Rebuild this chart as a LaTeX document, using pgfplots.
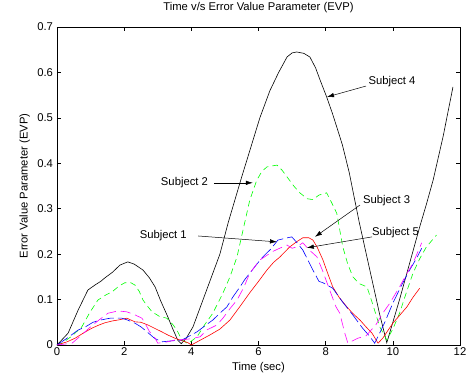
\documentclass[border=0pt]{standalone}
\usepackage{pgfplots}
\pgfplotsset{compat=1.18}
\usepackage{fontspec}
\setmainfont{Liberation Sans}
\usetikzlibrary{arrows.meta}
\definecolor{mgreen}{RGB}{0,255,0}
\definecolor{mblue}{RGB}{0,0,255}
\definecolor{mred}{RGB}{255,0,0}
\definecolor{mmag}{RGB}{255,0,255}
\newcommand{\lfont}{\fontsize{11.3}{13}\selectfont}
\begin{document}
\begin{tikzpicture}
\begin{axis}[
  scale only axis, width=403bp, height=318bp,
  xmin=0, xmax=12, ymin=0, ymax=0.7,
  xtick={0,2,...,12}, ytick={0,0.1,...,0.7},
  yticklabels={0,0.1,0.2,0.3,0.4,0.5,0.6,0.7},
  tick align=inside, tick pos=both,
  major tick length=4bp,
  axis line style={line width=0.8pt},
  every tick/.style={black, line width=0.5pt},
  /pgf/number format/assume math mode=true,
  tick label style={font=\lfont},
  xticklabel style={yshift=1bp},
  yticklabel style={xshift=-0.5bp},
  title={Time v/s Error Value Parameter (EVP)},
  title style={font=\lfont, at={(axis description cs:0.5,1.041)}, anchor=center},
  xlabel={Time (sec)},
  xlabel style={font=\lfont, at={(axis description cs:0.5,-0.072)}, anchor=center},
  ylabel={Error Value Parameter (EVP)},
  ylabel style={font=\lfont, at={(axis description cs:-0.080,0.5)}, anchor=center, rotate=0},
  clip=false,
]
% Subject 4 (black)
\addplot[black, line width=0.6pt] coordinates {
(0,0) (0.33,0.026) (0.63,0.077) (0.92,0.121) (1.13,0.132) (1.3,0.14) (1.43,0.148) (1.65,0.16) (1.875,0.176) (2.11,0.183) (2.3,0.178) (2.56,0.165) (2.75,0.148) (2.92,0.128) (3.1,0.095) (3.3,0.062) (3.45,0.035) (3.6,0.01) (3.7,0.003) (3.85,0.015) (4.05,0.04) (4.3,0.09) (4.6,0.15) (4.85,0.2) (5.1,0.27) (5.3,0.32) (5.5,0.37) (5.75,0.43) (6.04,0.50) (6.34,0.56) (6.6,0.60) (6.85,0.634) (7.0,0.643) (7.14,0.645) (7.35,0.642) (7.53,0.634) (7.7,0.61) (7.83,0.584) (8.03,0.546) (8.2,0.51) (8.33,0.48) (8.5,0.44) (8.7,0.38) (9.0,0.27) (9.3,0.17) (9.6,0.07) (9.82,0.005) (10.0,0.05) (10.2,0.1) (10.5,0.18) (10.8,0.26) (11.0,0.31) (11.2,0.363) (11.5,0.46) (11.79,0.568)
};
% Subject 2 (green dashed)
\addplot[mgreen, line width=0.6pt, dash pattern=on 6bp off 4bp] coordinates {
(0,0) (0.15,0.004) (0.45,0.02) (0.74,0.04) (0.98,0.072) (1.22,0.099) (1.45,0.11) (1.64,0.117) (1.85,0.13) (2.02,0.137) (2.2,0.137) (2.32,0.132) (2.45,0.118) (2.56,0.099) (2.7,0.085) (2.83,0.073) (3.05,0.063) (3.27,0.059) (3.45,0.045) (3.57,0.033) (3.72,0.011) (3.9,0.003) (4.17,0.018) (4.4,0.045) (4.64,0.07) (4.94,0.114) (5.15,0.15) (5.36,0.194) (5.5,0.24) (5.74,0.319) (5.95,0.363) (6.1,0.382) (6.25,0.392) (6.55,0.396) (6.7,0.385) (6.85,0.37) (7.05,0.35) (7.23,0.335) (7.45,0.322) (7.62,0.32) (7.8,0.33) (8.03,0.335) (8.2,0.31) (8.33,0.29) (8.51,0.216) (8.65,0.18) (8.81,0.15) (9.0,0.135) (9.23,0.128) (9.4,0.09) (9.61,0.04) (9.82,0.011) (10.0,0.035) (10.2,0.07) (10.4,0.115) (10.6,0.158) (10.8,0.19) (11.0,0.216) (11.3,0.242)
};
% Subject 5 (red)
\addplot[mred, line width=0.6pt] coordinates {
(0,0) (0.3,0.007) (0.54,0.015) (0.8,0.027) (1.04,0.037) (1.25,0.044) (1.43,0.049) (1.65,0.053) (1.82,0.055) (2.08,0.059) (2.2,0.055) (2.32,0.051) (2.5,0.05) (2.71,0.044) (2.9,0.037) (3.12,0.029) (3.3,0.022) (3.51,0.015) (3.7,0.01) (3.9,0.005) (4.0,0.0) (4.2,0.008) (4.55,0.022) (4.85,0.035) (5.15,0.055) (5.45,0.085) (5.74,0.115) (6.0,0.14) (6.25,0.165) (6.45,0.182) (6.64,0.194) (6.93,0.216) (7.15,0.228) (7.32,0.236) (7.5,0.236) (7.62,0.231) (7.75,0.215) (7.92,0.187) (8.05,0.16) (8.21,0.128) (8.4,0.105) (8.63,0.084) (8.8,0.07) (9.02,0.055) (9.2,0.04) (9.38,0.026) (9.56,0.004) (9.7,0.015) (10.0,0.048) (10.2,0.065) (10.42,0.084) (10.6,0.105) (10.8,0.125)
};
% Subject 1 (blue)
\addplot[mblue, line width=0.6pt, dash pattern=on 13bp off 4bp] coordinates {
(0,0) (0.3,0.015) (0.63,0.033) (0.85,0.04) (1.07,0.05) (1.3,0.055) (1.58,0.059) (1.93,0.059) (2.1,0.055) (2.32,0.048) (2.5,0.04) (2.68,0.029) (2.9,0.015) (3.12,0.007) (3.4,0.009) (3.72,0.011) (3.95,0.02) (4.17,0.029) (4.4,0.042) (4.64,0.055) (4.85,0.07) (5.06,0.084) (5.24,0.106) (5.45,0.128) (5.6,0.145) (5.74,0.158) (5.95,0.178) (6.13,0.194) (6.35,0.21) (6.58,0.231) (6.8,0.235) (6.99,0.238) (7.15,0.225) (7.32,0.209) (7.45,0.19) (7.62,0.165) (7.8,0.14) (7.92,0.137) (8.21,0.125) (8.5,0.095) (8.81,0.066) (9.1,0.037) (9.3,0.02) (9.46,0.004) (9.6,0.025) (9.76,0.05) (10.0,0.092) (10.25,0.13) (10.5,0.165) (10.7,0.19) (10.86,0.213)
};
% Subject 3 (magenta)
\addplot[mmag, line width=0.6pt, dash pattern=on 10bp off 5bp] coordinates {
(0,0) (0.45,0.004) (0.7,0.02) (1.0,0.04) (1.25,0.055) (1.52,0.07) (1.82,0.075) (2.08,0.073) (2.3,0.067) (2.53,0.059) (2.62,0.048) (2.75,0.03) (2.92,0.015) (3.0,0.004) (3.3,0.007) (3.51,0.011) (3.8,0.012) (4.0,0.014) (4.26,0.018) (4.46,0.033) (4.76,0.044) (4.94,0.059) (5.15,0.08) (5.36,0.099) (5.55,0.125) (5.74,0.158) (6.04,0.187) (6.4,0.205) (6.6,0.212) (6.85,0.22) (7.0,0.213) (7.14,0.216) (7.32,0.225) (7.5,0.21) (7.74,0.194) (7.9,0.165) (8.12,0.121) (8.3,0.085) (8.42,0.07) (8.57,0.026) (8.66,0.004) (8.96,0.015) (9.2,0.02) (9.5,0.045) (9.7,0.07) (9.91,0.092) (10.2,0.128) (10.4,0.155) (10.6,0.18) (10.86,0.225)
};
% annotations
\begin{scope}[every node/.style={font=\lfont, inner sep=0pt}]
\node[anchor=west] at (axis cs:9.27,0.579) {Subject 4};
\draw[-{Latex[length=7bp,width=4.5bp]}, line width=0.5pt] (axis cs:9.2,0.570) -- (axis cs:8.04,0.546);
\node[anchor=east] at (axis cs:4.50,0.357) {Subject 2};
\draw[-{Latex[length=7bp,width=4.5bp]}, line width=0.5pt] (axis cs:4.67,0.357) -- (axis cs:5.83,0.357);
\node[anchor=east] at (axis cs:3.87,0.240) {Subject 1};
\draw[-{Latex[length=7bp,width=4.5bp]}, line width=0.5pt] (axis cs:4.2,0.240) -- (axis cs:6.55,0.227);
\node[anchor=west] at (axis cs:9.11,0.317) {Subject 3};
\draw[-{Latex[length=7bp,width=4.5bp]}, line width=0.5pt] (axis cs:9.02,0.308) -- (axis cs:7.68,0.238);
\node[anchor=west] at (axis cs:9.375,0.247) {Subject 5};
\draw[-{Latex[length=7bp,width=4.5bp]}, line width=0.5pt] (axis cs:9.38,0.238) -- (axis cs:7.44,0.214);
\end{scope}
\end{axis}
\pgfresetboundingbox
\path[use as bounding box] (-57bp,-34bp) rectangle (409bp,345bp);
\end{tikzpicture}
\end{document}
